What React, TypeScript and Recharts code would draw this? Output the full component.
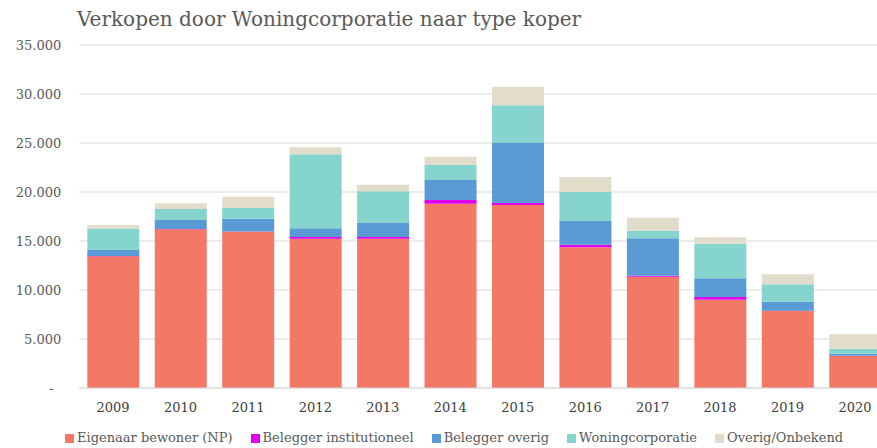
import React from 'react';
import { BarChart, Bar, XAxis, YAxis, CartesianGrid } from 'recharts';

const years = ['2009', '2010', '2011', '2012', '2013', '2014', '2015', '2016', '2017', '2018', '2019', '2020'];
const eigenaarBewoner = [13440, 16190, 15950, 15240, 15240, 18810, 18670, 14350, 11350, 9010, 7860, 3270];
const beleggerInstitutioneel = [20, 30, 30, 170, 170, 370, 210, 270, 100, 280, 30, 20];
const beleggerOverig = [610, 920, 1300, 880, 1490, 2040, 6120, 2420, 3840, 1900, 920, 210];
const woningcorporatie = [2210, 1130, 1090, 7550, 3170, 1540, 3850, 2960, 760, 3540, 1770, 510];
const overigOnbekend = [340, 570, 1150, 720, 680, 840, 1890, 1530, 1310, 650, 1020, 1470];
const yTicks = [0, 5000, 10000, 15000, 20000, 25000, 30000, 35000];
const title = 'Verkopen door Woningcorporatie naar type koper';

const series = [
  { key: 'eig', name: 'Eigenaar bewoner (NP)', values: eigenaarBewoner, color: '#F37866' },
  { key: 'inst', name: 'Belegger institutioneel', values: beleggerInstitutioneel, color: '#DF00EC' },
  { key: 'bel', name: 'Belegger overig', values: beleggerOverig, color: '#5B9BD5' },
  { key: 'won', name: 'Woningcorporatie', values: woningcorporatie, color: '#86D4CE' },
  { key: 'ovr', name: 'Overig/Onbekend', values: overigOnbekend, color: '#E2DDCB' },
];

const data = years.map((y, i) => {
  const row: Record<string, string | number> = { year: y };
  series.forEach((s) => {
    row[s.key] = s.values[i];
  });
  return row;
});

const FONT = '"DejaVu Serif", serif';

const fmt = (v: number) => (v === 0 ? '-' : v.toLocaleString('de-DE'));

const YTick = (props: any) => {
  const { x, y, payload } = props;
  const v = payload.value as number;
  return (
    <text
      x={v === 0 ? x - 8 : x}
      y={y}
      dy={5}
      textAnchor="end"
      fontFamily={FONT}
      fontSize={13}
      fill="#595959"
    >
      {fmt(v)}
    </text>
  );
};

const XTick = (props: any) => {
  const { x, y, payload } = props;
  return (
    <text x={x} y={y} dy={16} textAnchor="middle" fontFamily={FONT} fontSize={13} fill="#404040">
      {payload.value}
    </text>
  );
};

export default function App() {
  return (
    <div
      style={{
        position: 'absolute',
        left: 0,
        top: 0,
        width: 877,
        height: 448,
        overflow: 'hidden',
        background: '#fff',
      }}
    >
      <div
        style={{
          position: 'absolute',
          left: 77,
          top: 9,
          fontFamily: FONT,
          fontSize: 20,
          lineHeight: '20px',
          color: '#595959',
          whiteSpace: 'nowrap',
        }}
      >
        {title}
      </div>
      <div style={{ position: 'absolute', left: 0, top: 0 }}>
        <BarChart
          width={890}
          height={448}
          data={data}
          margin={{ top: 45, right: 1.3, left: 0, bottom: 0 }}
        >
          <CartesianGrid vertical={false} stroke="#D9D9D9" strokeWidth={1} />
          <XAxis
            dataKey="year"
            height={60}
            tickLine={false}
            axisLine={{ stroke: '#D9D9D9' }}
            tick={<XTick />}
            interval={0}
          />
          <YAxis
            width={79.3}
            domain={[0, 35000]}
            ticks={yTicks}
            tickLine={false}
            axisLine={false}
            tickSize={6}
            tickMargin={12}
            tick={<YTick />}
          />
          {series.map((s) => (
            <Bar
              key={s.key}
              dataKey={s.key}
              name={s.name}
              stackId="a"
              fill={s.color}
              barSize={52}
              isAnimationActive={false}
            />
          ))}
        </BarChart>
      </div>
      <div
        style={{
          position: 'absolute',
          left: 65,
          top: 429,
          display: 'flex',
          fontFamily: FONT,
          fontSize: 13,
          lineHeight: '18px',
          color: '#595959',
          whiteSpace: 'nowrap',
        }}
      >
        {series.map((s) => (
          <div key={s.key} style={{ display: 'flex', alignItems: 'center', marginRight: 18 }}>
            <span
              style={{ display: 'inline-block', width: 9, height: 9, background: s.color, marginRight: 3 }}
            />
            <span>{s.name}</span>
          </div>
        ))}
      </div>
    </div>
  );
}
